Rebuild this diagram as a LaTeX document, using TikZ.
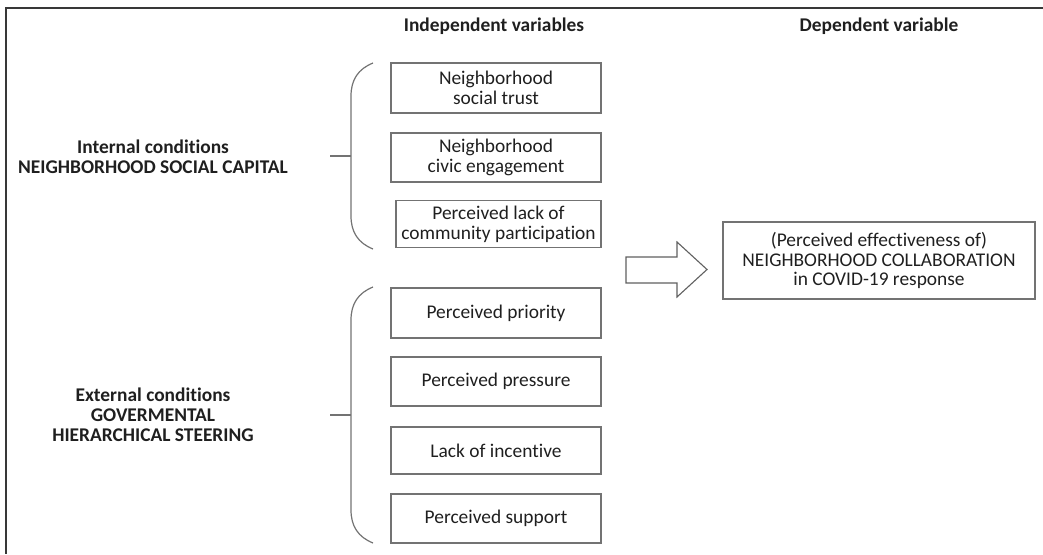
\documentclass[tikz,border=0pt]{standalone}
\usepackage{fontspec}
\setmainfont{Carlito}[Ligatures={NoCommon,NoRequired,NoContextual}]
\definecolor{boxline}{gray}{0.45}
\definecolor{frameline}{gray}{0.22}
\definecolor{txt}{gray}{0.12}
\tikzset{
  varbox/.style={draw=boxline, line width=1.2pt, minimum width=210pt, minimum height=49pt,
    align=center, inner sep=0pt, text=txt, font=\fontsize{19.4}{20}\selectfont},
  depbox/.style={draw=boxline, line width=1.2pt, minimum width=312pt, minimum height=77pt,
    align=center, inner sep=0pt, text=txt, font=\fontsize{19.4}{19.5}\selectfont},
  headtxt/.style={font=\fontsize{19.4}{20}\selectfont\bfseries, text=txt, inner sep=0pt},
  sidetxt/.style={font=\fontsize{19.4}{20}\selectfont\bfseries, text=txt, align=center, inner sep=0pt},
  bracepath/.style={draw=boxline, line width=1.2pt},
}
\begin{document}
\begin{tikzpicture}[x=1pt,y=-1pt]
\useasboundingbox (0,0) rectangle (1043,554);
% frame (clipped at right and bottom)
\draw[frameline, line width=2pt] (1043,8) -- (6,8) -- (6,554);

% headers
\node[headtxt] (hind) at (494,26) {Independent variables};
\node[headtxt] (hdep) at (879,26) {Dependent variable};

% side labels
\node[sidetxt] (intl) at (153,157) {Internal conditions\\NEIGHBORHOOD SOCIAL CAPITAL};
\node[sidetxt] (extl) at (153,415) {External conditions\\GOVERMENTAL\\HIERARCHICAL STEERING};

% upper boxes
\node[varbox, minimum height=50pt] (b1) at (496,88) {Neighborhood\\social trust};
\node[varbox] (b2) at (496,157.5) {Neighborhood\\civic engagement};
\node[varbox, minimum width=205pt, minimum height=47pt] (b3) at (498.5,224) {Perceived lack of\\community participation};

% lower boxes
\node[varbox, minimum height=50pt] (b4) at (496,313) {Perceived priority};
\node[varbox] (b5) at (496,381.5) {Perceived pressure};
\node[varbox, minimum height=47pt] (b6) at (496,450.5) {Lack of incentive};
\node[varbox] (b7) at (496,518.5) {Perceived support};

% dependent box
\node[depbox] (dep) at (879,260.5) {(Perceived effectiveness of)\\NEIGHBORHOOD COLLABORATION\\in COVID-19 response};

% upper brace
\draw[bracepath] (373,63) .. controls (358,69) and (351,80) .. (351,96) -- (351,216) .. controls (351,232) and (358,243) .. (373,249);
\coordinate (t1) at (330,156);
\draw[bracepath] (t1) -- (351,156);

% lower brace
\draw[bracepath] (373,287) .. controls (358,293) and (351,304) .. (351,320) -- (351,510) .. controls (351,526) and (358,537) .. (373,543);
\coordinate (t2) at (330,415);
\draw[bracepath] (t2) -- (351,415);

% block arrow
\draw[frameline!80!white, line width=1.1pt, fill=white]
  (626,257) -- (677,257) -- (677,242) -- (707,269.5) -- (677,297) -- (677,283) -- (626,283) -- cycle;
\end{tikzpicture}
\end{document}
